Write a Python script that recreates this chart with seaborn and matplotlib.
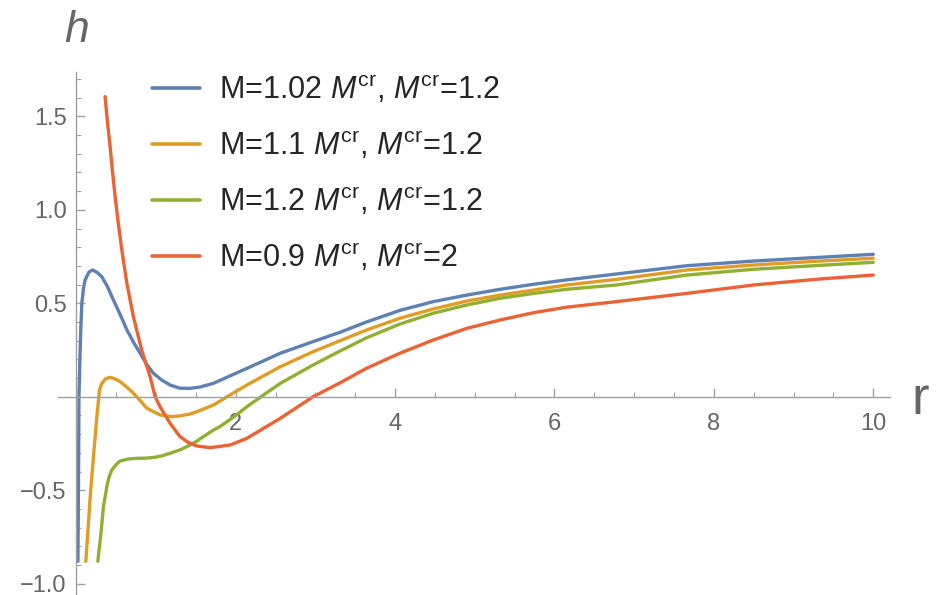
import numpy as np
import pandas as pd
import matplotlib
matplotlib.use("Agg")
import matplotlib.pyplot as plt
from matplotlib.ticker import MultipleLocator, FixedLocator
import seaborn as sns

# values
r_blue = [0.020, 0.028, 0.033, 0.045, 0.055, 0.069, 0.09, 0.11, 0.16, 0.207, 0.26, 0.32, 0.39,
          0.465, 0.55, 0.634, 0.72, 0.80, 0.88, 0.967, 1.07, 1.177, 1.30, 1.42, 1.55, 1.72, 1.93,
          2.14, 2.56, 2.97, 3.31, 3.64, 4.06, 4.48, 4.90, 5.32, 5.74, 6.15, 6.78, 7.66, 8.50, 9.33, 10.0]
h_blue = [-0.88, -0.40, 0.0, 0.20, 0.35, 0.50, 0.58, 0.625, 0.668, 0.678, 0.665, 0.642, 0.59,
          0.518, 0.44, 0.358, 0.29, 0.233, 0.175, 0.126, 0.09, 0.063, 0.046, 0.045, 0.052, 0.072, 0.112,
          0.152, 0.233, 0.295, 0.345, 0.40, 0.462, 0.509, 0.544, 0.575, 0.602, 0.625, 0.657, 0.701, 0.726, 0.746, 0.762]

r_orange = [0.119, 0.135, 0.152, 0.18, 0.20, 0.215, 0.25, 0.29, 0.32, 0.37, 0.424, 0.48, 0.55, 0.61,
            0.675, 0.76, 0.885, 1.05, 1.20, 1.30, 1.43, 1.56, 1.72, 1.89, 2.14, 2.56, 2.97, 3.31,
            3.64, 4.06, 4.48, 4.90, 5.32, 5.74, 6.15, 6.78, 7.66, 8.50, 9.33, 10.0]
h_orange = [-0.88, -0.78, -0.676, -0.50, -0.40, -0.32, -0.142, 0.036, 0.072, 0.097, 0.104, 0.097, 0.081, 0.06,
            0.036, 0.0, -0.061, -0.097, -0.106, -0.102, -0.092, -0.072, -0.044, 0.0, 0.063, 0.161, 0.241, 0.30,
            0.357, 0.42, 0.47, 0.512, 0.544, 0.571, 0.598, 0.628, 0.678, 0.705, 0.726, 0.741]

r_green = [0.27, 0.285, 0.30, 0.32, 0.34, 0.383, 0.41, 0.445, 0.50, 0.55, 0.65, 0.76, 0.867, 0.967, 1.07,
           1.177, 1.30, 1.386, 1.51, 1.595, 1.72, 1.80, 2.01, 2.14, 2.35, 2.56, 2.97, 3.31, 3.64,
           4.06, 4.48, 4.90, 5.32, 5.74, 6.15, 6.78, 7.66, 8.50, 9.33, 10.0]
h_green = [-0.88, -0.82, -0.766, -0.68, -0.588, -0.48, -0.43, -0.391, -0.362, -0.343, -0.333, -0.329, -0.328, -0.325, -0.316,
           -0.302, -0.284, -0.267, -0.238, -0.213, -0.178, -0.16, -0.097, -0.053, 0.01, 0.072, 0.17, 0.245, 0.315,
           0.389, 0.447, 0.491, 0.527, 0.553, 0.575, 0.598, 0.651, 0.682, 0.703, 0.719]

r_red = [0.361, 0.39, 0.424, 0.455, 0.487, 0.52, 0.571, 0.634, 0.716, 0.82, 0.926, 0.989, 1.05,
         1.177, 1.30, 1.40, 1.51, 1.68, 1.93, 2.14, 2.56, 2.97, 3.31, 3.64, 4.06, 4.48, 4.90,
         5.32, 5.74, 6.15, 6.78, 7.66, 8.50, 9.33, 10.0]
h_red = [1.605, 1.47, 1.337, 1.20, 1.07, 0.95, 0.785, 0.607, 0.428, 0.25, 0.107, 0.0, -0.053,
         -0.142, -0.213, -0.243, -0.263, -0.272, -0.258, -0.222, -0.115, 0.0, 0.075, 0.152, 0.233, 0.304, 0.366,
         0.411, 0.45, 0.479, 0.509, 0.553, 0.598, 0.63, 0.651]

labels = [r"M=1.02 $M^{\rm cr}$, $M^{\rm cr}$=1.2",
          r"M=1.1 $M^{\rm cr}$, $M^{\rm cr}$=1.2",
          r"M=1.2 $M^{\rm cr}$, $M^{\rm cr}$=1.2",
          r"M=0.9 $M^{\rm cr}$, $M^{\rm cr}$=2"]
colors = ["#5E81B5", "#E19C24", "#8FB032", "#EB6235"]

x_ticks = [2, 4, 6, 8, 10]
y_ticks = [-1.0, -0.5, 0.5, 1.0, 1.5]
y_ticklabels = ["\u22121.0", "\u22120.5", "0.5", "1.0", "1.5"]

df = pd.concat([
    pd.DataFrame({"r": r_blue, "h": h_blue, "series": labels[0]}),
    pd.DataFrame({"r": r_orange, "h": h_orange, "series": labels[1]}),
    pd.DataFrame({"r": r_green, "h": h_green, "series": labels[2]}),
    pd.DataFrame({"r": r_red, "h": h_red, "series": labels[3]}),
])

sns.set_style("white")
plt.rcParams["font.family"] = ["Liberation Sans", "DejaVu Sans"]
plt.rcParams["mathtext.fontset"] = "custom"
plt.rcParams["mathtext.rm"] = "Liberation Sans"
plt.rcParams["mathtext.it"] = "Liberation Sans:italic"

fig = plt.figure(figsize=(9.4, 5.95), dpi=100)
ax = fig.add_axes([58 / 940, 0, 832 / 940, 523 / 595])

sns.lineplot(data=df, x="r", y="h", hue="series", hue_order=labels,
             palette=colors, linewidth=2.4, ax=ax, legend=True)

ax.set_xlim(-0.23, 10.21)
ax.set_ylim(-1.06, 1.737)
ax.set_xlabel("")
ax.set_ylabel("")

axis_col = "#a0a0a0"
for s in ["top", "right"]:
    ax.spines[s].set_visible(False)
ax.spines["left"].set_position(("data", 0))
ax.spines["bottom"].set_position(("data", 0))
ax.spines["left"].set_color(axis_col)
ax.spines["bottom"].set_color(axis_col)
ax.spines["left"].set_linewidth(1.0)
ax.spines["bottom"].set_linewidth(1.0)

ax.xaxis.set_major_locator(FixedLocator(x_ticks))
ax.xaxis.set_minor_locator(MultipleLocator(0.5))
ax.yaxis.set_major_locator(FixedLocator(y_ticks))
ax.yaxis.set_minor_locator(MultipleLocator(0.1))
ax.set_yticklabels(y_ticklabels)
ax.set_xticklabels([str(t) for t in x_ticks])
ax.tick_params(which="both", bottom=True, left=True, top=False, right=False)
ax.tick_params(which="major", direction="in", length=6.5, width=1, color=axis_col,
               labelsize=17, labelcolor="#666666")
ax.tick_params(which="minor", direction="in", length=3.5, width=0.8, color=axis_col)
ax.tick_params(axis="x", which="major", pad=12)
ax.tick_params(axis="y", which="major", pad=7)

handles, _ = ax.get_legend_handles_labels()
leg = ax.legend(handles, labels, loc="upper left", bbox_to_anchor=(152 / 940, 1 - 74 / 595),
                bbox_transform=fig.transFigure, frameon=False, fontsize=22,
                handlelength=1.57, handletextpad=0.62, labelspacing=0.79,
                borderpad=0, borderaxespad=0)
for line in leg.get_lines():
    line.set_linewidth(2.6)

fig.text(77 / 940, 1 - 30 / 595, "h", fontsize=32, style="italic", color="#666666",
         ha="center", va="center")
fig.text(920 / 940, 1 - 400 / 595, "r", fontsize=38, color="#666666",
         ha="center", va="center")

fig.savefig("out.png", dpi=100)
